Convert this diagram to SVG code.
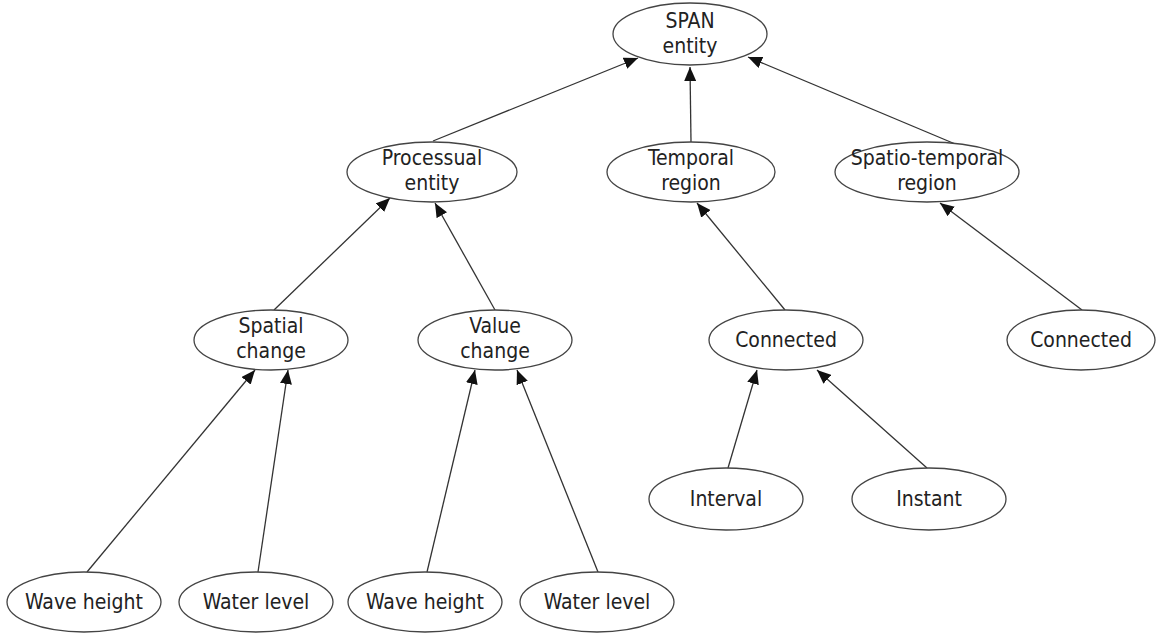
<svg xmlns="http://www.w3.org/2000/svg" width="1156" height="634" viewBox="0 0 1156 634">
<style>
.n ellipse{fill:#fff;stroke:#444;stroke-width:1.3}
.n text{font-family:"DejaVu Sans Condensed","DejaVu Sans",sans-serif;font-size:21px;fill:#222;text-anchor:middle}
.e line{stroke:#333;stroke-width:1.3;marker-end:url(#a)}
</style>
<defs>
<marker id="a" markerUnits="userSpaceOnUse" markerWidth="14" markerHeight="12" refX="14" refY="6" orient="auto">
<path d="M0,0 L14,6 L0,12 z" fill="#111"/>
</marker>
</defs>
<rect width="1156" height="634" fill="#fff"/>
<g id="connectors" class="e">
<line x1="433" y1="141" x2="638" y2="58"/>
<line x1="691" y1="142" x2="690" y2="67"/>
<line x1="960" y1="146" x2="748" y2="57"/>
<line x1="274" y1="310" x2="390" y2="198"/>
<line x1="495" y1="310" x2="435" y2="203"/>
<line x1="785" y1="310" x2="697" y2="203"/>
<line x1="1082" y1="310" x2="940" y2="203"/>
<line x1="87" y1="572" x2="255" y2="370"/>
<line x1="258" y1="572" x2="288" y2="370"/>
<line x1="427" y1="572" x2="475" y2="370"/>
<line x1="598" y1="572" x2="517" y2="370"/>
<line x1="728" y1="468" x2="757" y2="370"/>
<line x1="927" y1="468" x2="817" y2="370"/>
</g>
<g id="span" class="n"><ellipse cx="690" cy="34" rx="77" ry="31"/><text x="690" y="28">SPAN</text><text x="690" y="53">entity</text></g>
<g id="processual" class="n"><ellipse cx="432" cy="172" rx="85" ry="30"/><text x="432" y="165">Processual</text><text x="432" y="190">entity</text></g>
<g id="temporal" class="n"><ellipse cx="691" cy="172" rx="84" ry="30"/><text x="691" y="165">Temporal</text><text x="691" y="190">region</text></g>
<g id="spatiotemporal" class="n"><ellipse cx="927" cy="172" rx="92" ry="30"/><text x="927" y="165">Spatio-temporal</text><text x="927" y="190">region</text></g>
<g id="spatial" class="n"><ellipse cx="271" cy="340" rx="77" ry="30"/><text x="271" y="333">Spatial</text><text x="271" y="358">change</text></g>
<g id="value" class="n"><ellipse cx="495" cy="340" rx="77" ry="30"/><text x="495" y="333">Value</text><text x="495" y="358">change</text></g>
<g id="connected1" class="n"><ellipse cx="786" cy="340" rx="77" ry="30"/><text x="786" y="347">Connected</text></g>
<g id="connected2" class="n"><ellipse cx="1081" cy="340" rx="74" ry="30"/><text x="1081" y="347">Connected</text></g>
<g id="interval" class="n"><ellipse cx="726" cy="499" rx="77" ry="31"/><text x="726" y="506">Interval</text></g>
<g id="instant" class="n"><ellipse cx="929" cy="499" rx="77" ry="31"/><text x="929" y="506">Instant</text></g>
<g id="waveheight1" class="n"><ellipse cx="84" cy="602" rx="77" ry="30"/><text x="84" y="609">Wave height</text></g>
<g id="waterlevel1" class="n"><ellipse cx="256" cy="602" rx="77" ry="30"/><text x="256" y="609">Water level</text></g>
<g id="waveheight2" class="n"><ellipse cx="425" cy="602" rx="77" ry="30"/><text x="425" y="609">Wave height</text></g>
<g id="waterlevel2" class="n"><ellipse cx="597" cy="602" rx="77" ry="30"/><text x="597" y="609">Water level</text></g>
</svg>
